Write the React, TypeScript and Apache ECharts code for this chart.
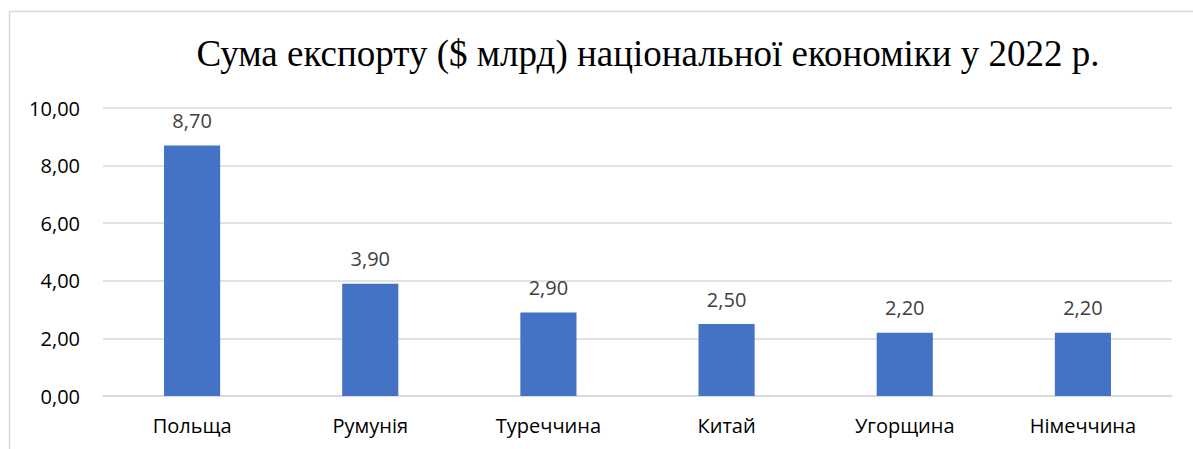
import React, { useEffect, useRef } from "react";
import * as echarts from "echarts";

const categories = ["Польща", "Румунія", "Туреччина", "Китай", "Угорщина", "Німеччина"];
const values = [8.7, 3.9, 2.9, 2.5, 2.2, 2.2];
const titleText = "Сума експорту ($ млрд) національної економіки у 2022 р.";
const yMin = 0;
const yMax = 10;
const yInterval = 2;

const fmt = (v: number) => v.toFixed(2).replace(".", ",");

export default function App() {
  const ref = useRef<HTMLDivElement>(null);
  useEffect(() => {
    if (!ref.current) return;
    const chart = echarts.init(ref.current, null, { renderer: "svg" });
    chart.setOption({
      animation: false,
      backgroundColor: "#ffffff",
      graphic: [
        {
          type: "rect",
          shape: { x: 9.5, y: 11.5, width: 1400, height: 600 },
          style: { fill: "none", stroke: "#d9d9d9", lineWidth: 1.5 },
          silent: true,
          z: -1,
        },
        {
          type: "text",
          x: 648,
          y: 53,
          style: {
            text: titleText,
            font: '37px "Liberation Serif", "Times New Roman", serif',
            fill: "#000000",
            textAlign: "center",
            textVerticalAlign: "middle",
          },
        },
      ],
      grid: { left: 103, right: 21, top: 108, bottom: 53, containLabel: false },
      xAxis: {
        type: "category",
        data: categories,
        axisLine: { show: true, lineStyle: { color: "#d9d9d9", width: 1.5 } },
        axisTick: { show: false },
        axisLabel: {
          color: "#000000",
          fontFamily: '"Open Sans", sans-serif',
          fontSize: 20,
          margin: 19,
          interval: 0,
        },
      },
      yAxis: {
        type: "value",
        min: yMin,
        max: yMax,
        interval: yInterval,
        axisLine: { show: false },
        axisTick: { show: false },
        splitLine: { lineStyle: { color: "#d9d9d9", width: 1.5 } },
        axisLabel: {
          color: "#000000",
          fontFamily: '"Open Sans", sans-serif',
          fontSize: 20,
          margin: 23,
          formatter: (v: number) => fmt(v),
        },
      },
      series: [
        {
          type: "bar",
          data: values,
          barWidth: "31.5%",
          itemStyle: { color: "#4472C4" },
          label: {
            show: true,
            position: "top",
            distance: 15,
            color: "#404040",
            fontFamily: '"Open Sans", sans-serif',
            fontSize: 20,
            formatter: (p: any) => fmt(p.value),
          },
        },
      ],
    });
    return () => chart.dispose();
  }, []);
  return (
    <div
      ref={ref}
      style={{ position: "fixed", left: 0, top: 0, width: 1193, height: 449 }}
    />
  );
}
